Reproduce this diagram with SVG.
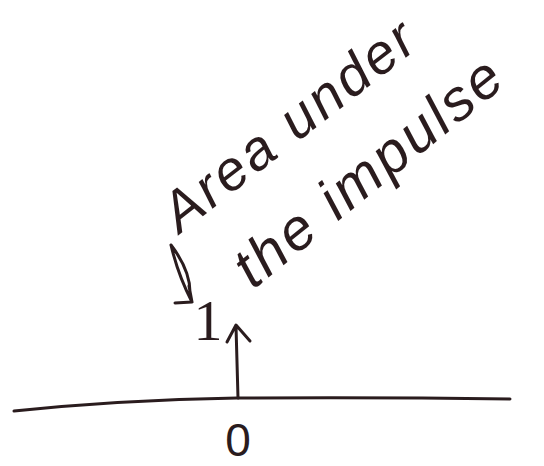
<svg xmlns="http://www.w3.org/2000/svg" width="544" height="466" viewBox="0 0 544 466">
<style>
.ink{fill:none;stroke:#2a1c1e;stroke-width:3;stroke-linecap:round;stroke-linejoin:round}
.hand{font-family:"Liberation Sans",Arial,sans-serif;font-style:italic;fill:#2a1c1e}
.num{font-family:"Liberation Serif","Times New Roman",serif;fill:#2a1c1e}
.zero{font-family:"Liberation Sans",Arial,sans-serif;fill:#2a1c1e}
</style>
<rect width="544" height="466" fill="#ffffff"/>
<g id="axis">
<path class="ink" d="M14,411 Q120,400 237,398 Q380,397 510,399"/>
</g>
<g id="connectors">
<path id="impulse" class="ink" d="M238,398 L236,326 M227,342 L236,325 L250,341"/>
<path id="pointer" class="ink" stroke-width="2.5" d="M171,245 Q178,275 192,302 M171,245 Q190,270 190,292 M175,303 L192,302 L189,286"/>
</g>
<g id="label-area">
<text class="hand" font-size="56" letter-spacing="3" transform="translate(180,234) rotate(-38)">Area under</text>
<text class="hand" font-size="58" letter-spacing="3" transform="translate(253,290) rotate(-39)">the impulse</text>
</g>
<g id="label-one">
<text class="num" x="208" y="340" font-size="58" text-anchor="middle">1</text>
</g>
<g id="label-zero">
<text class="zero" x="238" y="456" font-size="46" text-anchor="middle">0</text>
</g>
</svg>
